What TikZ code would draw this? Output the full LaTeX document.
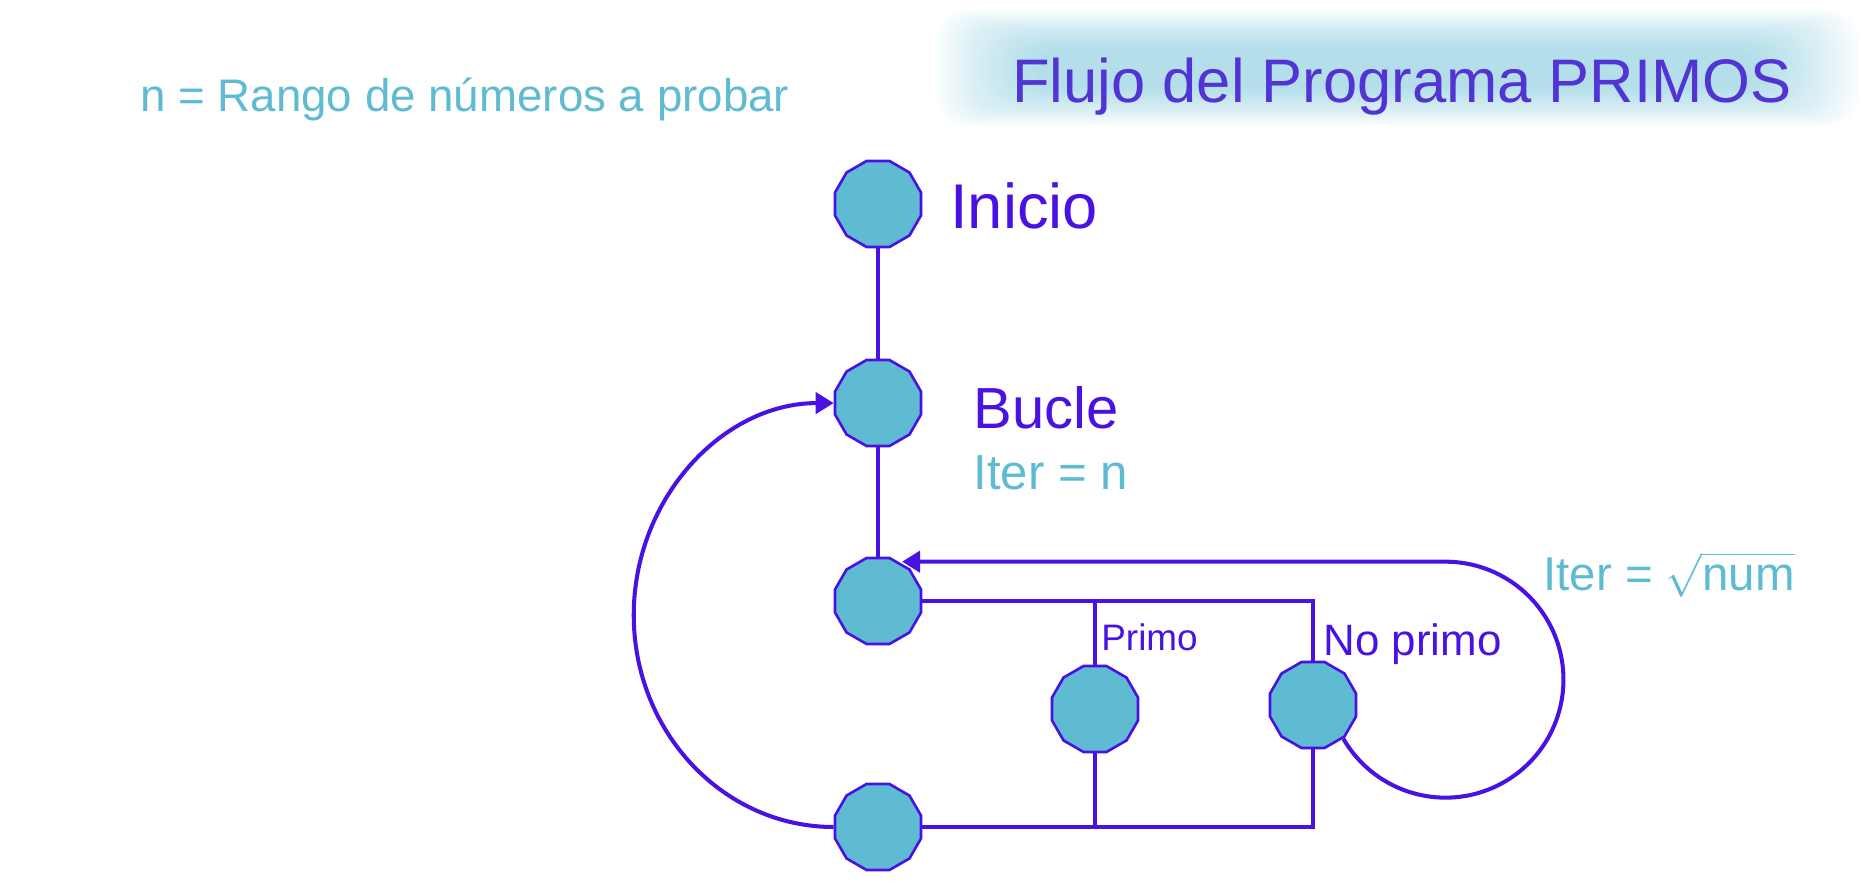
\documentclass[tikz,border=0pt]{standalone}
\usepackage{amsmath}
\usepackage{fontspec}
\setmainfont{Liberation Sans}
\usepackage{tikz}
\usetikzlibrary{calc,arrows.meta,positioning,shapes.geometric}
\definecolor{flujoPurple}{RGB}{74,18,226}
\definecolor{flujoTitle}{RGB}{82,52,212}
\definecolor{flujoCyan}{RGB}{95,187,210}

\begin{document}
\begin{tikzpicture}[x=0.02cm,y=-0.02cm,
  estado/.style={regular polygon, regular polygon sides=12, minimum size=1.78cm, inner sep=0pt, fill=flujoCyan, draw=flujoPurple, line width=1.5pt},
  linea/.style={flujoPurple, line width=1.9pt},
  bucleline/.style={flujoPurple, line width=2.3pt, -{Triangle[length=0.36cm,width=0.42cm]}},
  etiqueta/.style={text=flujoPurple, inner sep=0pt, anchor=base west},
  nota/.style={text=flujoCyan, inner sep=0pt, anchor=base west}]
\useasboundingbox (0,0) rectangle (1861,888);

% glow behind the title
\foreach \k in {0,...,19}
  \fill[flujoCyan, opacity=0.032, rounded corners=0.6cm]
    (935+5*\k,10+2*\k) rectangle (1858-5*\k,126-2*\k);

\node[etiqueta, text=flujoTitle, font=\fontsize{35}{40}\selectfont] (titulo) at (1012,103) {Flujo del Programa PRIMOS};
\node[nota, font=\fontsize{26}{30}\selectfont] (rango) at (140,112) {n = Rango de números a probar};

\node[estado] (inicio) at (878,204) {};
\node[estado] (bucle) at (878,403) {};
\node[estado] (prueba) at (878,601) {};
\node[estado] (fin) at (878,827) {};
\node[estado] (primo) at (1095,709) {};
\node[estado] (noprimo) at (1313,705) {};

\node[etiqueta, font=\fontsize{36}{40}\selectfont] (lblinicio) at (950,229) {Inicio};
\node[etiqueta, font=\fontsize{33}{38}\selectfont] (lblbucle) at (973,428) {Bucle};
\node[nota, font=\fontsize{28}{32}\selectfont] (iterbucle) at (973,489) {Iter = n};
\node[nota, font=\fontsize{27}{32}\selectfont] (iterraiz) at (1543,590) {Iter = $\sqrt{\text{num}}$};
\node[etiqueta, font=\fontsize{21}{24}\selectfont] (lblprimo) at (1101,650) {Primo};
\node[etiqueta, font=\fontsize{25}{28}\selectfont] (lblnoprimo) at (1323,655) {No primo};

\draw[linea] (inicio) -- (bucle);
\draw[linea] (bucle) -- (prueba);
\coordinate (rama) at (noprimo.north |- prueba.east);
\draw[linea] (prueba.east) -- (rama) -- (noprimo.north);
\draw[linea] (primo.north |- prueba.east) -- (primo.north);
\coordinate (cierre) at (noprimo.south |- fin.east);
\draw[linea] (fin.east) -- (cierre) -- (noprimo.south);
\draw[linea] (primo.south) -- (primo.south |- fin.east);

% the two loops
\coordinate (vuelta) at ($(prueba.north)+(24,0)$);
\draw[bucleline] (noprimo.-48) arc[start angle=210, end angle=450, radius=2.36cm] coordinate (cima) -- (cima -| vuelta);
\draw[bucleline] (fin.west) arc[start angle=270, end angle=90, x radius=4cm, y radius=4.24cm] coordinate (llegada);
\end{tikzpicture}
\end{document}
